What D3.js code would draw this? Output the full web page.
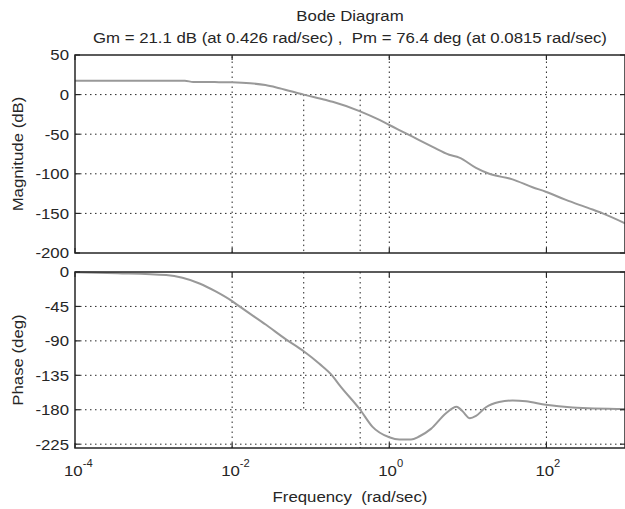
<!DOCTYPE html>
<html>
<head>
<meta charset="utf-8">
<script src="https://cdn.jsdelivr.net/npm/d3@7"></script>
<style>
  html, body { margin: 0; padding: 0; background: #fff; }
  svg { display: block; font-family: "Liberation Sans", Arial, Helvetica, sans-serif; }
</style>
</head>
<body>
<svg id="chart" width="625" height="509"></svg>
<script>
// Open-loop frequency response (rad/sec)
const magFreq = [1e-4, 1e-3, 2.5e-3, 3.2e-3, 6e-3, 0.01, 0.017, 0.0265, 0.04, 0.0815, 0.157, 0.19, 0.426, 0.75, 1, 1.63, 2.4, 3.56, 5.79, 7.77, 12.7, 18.7, 37, 66.5, 98, 177, 350, 520, 1000];
const magDb   = [17.5, 17.5, 17.4, 16.0, 15.8, 15.5, 14.3, 12, 8, 0, -6.8, -9, -21.1, -32, -38.4, -48.9, -57.5, -66, -76, -79.5, -92.5, -100, -107, -117, -122.6, -133, -143.6, -150, -162.5];

const phaseFreq = [1e-4, 3.5e-4, 1.45e-3, 3.84e-3, 6.26e-3, 0.0102, 0.0124, 0.027, 0.0484, 0.0815, 0.129, 0.19, 0.231, 0.426, 0.608, 1, 1.34, 1.89, 2.4, 3.39, 5.27, 7.18, 8.56, 10.6, 12.7, 17, 25, 37, 55, 98.5, 215, 1000];
const phaseDeg  = [-0.3, -1.5, -4, -15, -25.7, -38.7, -45, -69, -88, -103.6, -120, -136, -147.5, -180, -202, -216, -219, -219, -215, -205, -184.5, -176, -182, -191, -188, -176.7, -170, -168, -169, -173.6, -177, -179];

// Stability margins
const gmDb = 21.1, gmFreq = 0.426;
const pmDeg = 76.4, pmFreq = 0.0815;

// Axis ticks
const freqTicks  = [1e-4, 1e-2, 1e0, 1e2];
const freqExps   = ["-4", "-2", "0", "2"];
const magTicks   = [50, 0, -50, -100, -150, -200];
const phaseTicks = [0, -45, -90, -135, -180, -225];

const svg = d3.select("#chart");
const ink = "#262626";
const curveColor = "#999";
const FS = 15, SX = 1.12;   // font size and horizontal text stretch

// text placed at (px, py), slightly widened
function label(parent, px, py, str, anchor, size) {
  return parent.append("text")
    .attr("transform", `translate(${px},${py}) scale(${SX},1)`)
    .attr("text-anchor", anchor || "middle")
    .attr("font-size", size || FS).attr("fill", ink)
    .attr("xml:space", "preserve")
    .text(str);
}

const x = d3.scaleLog().domain([1e-4, 1e3]).range([75, 625]);
const yMag = d3.scaleLinear().domain([-200, 50]).range([253, 55]);
const yPh  = d3.scaleLinear().domain([-230, 0]).range([448, 272]);

function panel(y, ticks, vals, freqs, lines, title) {
  const g = svg.append("g");
  const [y0, y1] = y.range();
  const x0 = x.range()[0], x1 = x.range()[1];

  // grid
  const grid = g.append("g").attr("stroke", ink).attr("stroke-width", 1)
    .attr("stroke-dasharray", "1.5,3.5");
  grid.selectAll(".gy").data(ticks.filter(t => y(t) > y1 + 1 && y(t) < y0 - 0.5)).join("line")
    .attr("x1", x0).attr("x2", x1).attr("y1", d => y(d)).attr("y2", d => y(d));
  grid.selectAll(".gx").data(freqTicks.slice(1)).join("line")
    .attr("y1", y0).attr("y2", y1).attr("x1", d => x(d)).attr("x2", d => x(d));
  // margin markers
  grid.selectAll(".gm").data(lines).join("line")
    .attr("x1", d => x(d.f)).attr("x2", d => x(d.f))
    .attr("y1", d => y(d.a)).attr("y2", d => y(d.b));

  // response curve
  g.append("path")
    .datum(freqs.map((f, i) => [f, vals[i]]))
    .attr("fill", "none").attr("stroke", curveColor).attr("stroke-width", 2)
    .attr("stroke-linejoin", "round")
    .attr("d", d3.line().x(d => x(d[0])).y(d => y(d[1])).curve(d3.curveMonotoneX));

  // inner tick marks on all four sides
  const tk = g.append("g").attr("stroke", ink).attr("stroke-width", 1.2);
  ticks.forEach(t => {
    tk.append("line").attr("x1", x0).attr("x2", x0 + 5).attr("y1", y(t)).attr("y2", y(t));
    tk.append("line").attr("x1", x1).attr("x2", x1 - 5).attr("y1", y(t)).attr("y2", y(t));
  });
  freqTicks.forEach(f => {
    tk.append("line").attr("x1", x(f)).attr("x2", x(f)).attr("y1", y0).attr("y2", y0 - 5);
    tk.append("line").attr("x1", x(f)).attr("x2", x(f)).attr("y1", y1).attr("y2", y1 + 5);
  });

  // box
  g.append("rect").attr("x", x0).attr("y", y1).attr("width", x1 - x0).attr("height", y0 - y1)
    .attr("fill", "none").attr("stroke", ink).attr("stroke-width", 1.5);

  // y tick labels
  ticks.forEach(t => label(g, x0 - 6, y(t) + 5.4, String(t), "end"));

  // y axis title
  g.append("text")
    .attr("transform", `translate(23,${(y0 + y1) / 2}) rotate(-90) scale(${SX},1)`)
    .attr("text-anchor", "middle").attr("font-size", FS).attr("fill", ink)
    .text(title);
}

panel(yMag, magTicks, magDb, magFreq,
  [{ f: pmFreq, a: 0, b: -200 }, { f: gmFreq, a: 0, b: -200 }],
  "Magnitude (dB)");
panel(yPh, phaseTicks, phaseDeg, phaseFreq,
  [{ f: pmFreq, a: 0, b: -180 }, { f: gmFreq, a: 0, b: -230 }],
  "Phase (deg)");

// frequency tick labels as 10^n
const xl = svg.append("g");
freqTicks.forEach((f, i) => {
  const t = label(xl, x(f) - 11, 476, "", "start");
  t.append("tspan").text("10");
  t.append("tspan").attr("dy", -9).attr("font-size", 10).text(freqExps[i]);
});

label(svg, 350, 502, "Frequency  (rad/sec)");

// titles
label(svg, 350, 21, "Bode Diagram");
label(svg, 350, 43, `Gm = ${gmDb} dB (at ${gmFreq} rad/sec) ,  Pm = ${pmDeg} deg (at ${pmFreq} rad/sec)`);
</script>
</body>
</html>
